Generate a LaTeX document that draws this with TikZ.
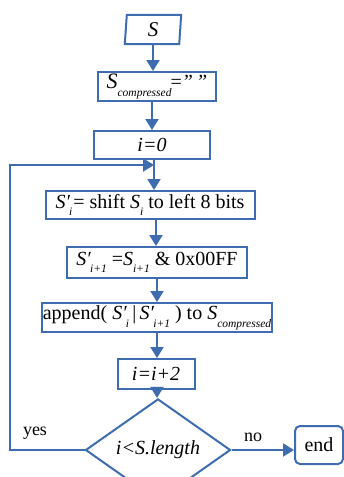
\documentclass[tikz,border=0pt]{standalone}
\usepackage{fontspec}
\setmainfont{Liberation Serif}
\usetikzlibrary{shapes.geometric,arrows.meta}
\definecolor{fblue}{RGB}{62,108,176}
\newcommand\subx[1]{\raisebox{-0.38em}{\fontsize{11.5}{12}\selectfont\itshape #1}}
\newcommand\V[2]{\textit{#1}\subx{#2}}
\newcommand\VP[2]{\textit{#1′}\kern-1pt\subx{#2}}
\begin{document}
\begin{tikzpicture}[x=1pt,y=-1pt,
  box/.style={draw=fblue,line width=2pt,fill=white,inner sep=0pt,font=\fontsize{20}{22}\selectfont},
  lbl/.style={inner sep=0pt,font=\fontsize{18}{22}\selectfont},
  arr/.style={draw=fblue,line width=2pt,-{Triangle[length=11pt,width=13pt]}}]
\useasboundingbox (0,0) rectangle (344,477);
\node[inner sep=0pt,minimum width=54pt,minimum height=29pt,font=\fontsize{21}{22}\selectfont] (s) at (153,29.5) {\textit{S}};
\draw[fblue,line width=2pt] ([xshift=1pt]s.north west) -- ([xshift=1pt]s.north east) -- ([xshift=-1pt]s.south east) -- ([xshift=-1pt]s.south west) -- cycle;
\node[box,minimum width=118pt,minimum height=29pt] (sc) at (157,86.5) {{\fontsize{22}{22}\selectfont\textit{S}}\subx{compressed}\kern-1pt=\textit{”\,”}};
\node[box,minimum width=116pt,minimum height=28pt] (i0) at (152,145) {\textit{i=0}};
\node[box,minimum width=209pt,minimum height=28pt] (si) at (150,205) {\VP{S}{i}\kern1pt= shift \V{S}{i} to left 8 bits};
\node[box,minimum width=180pt,minimum height=31pt] (si1) at (157,262.5) {\VP{S}{i+1} =\V{S}{i+1} \& 0x00FF};
\node[box,minimum width=230pt,minimum height=29pt] (app) at (157,317.5) {append( \VP{S}{i}\,|\,\VP{S}{i+1} ) to \V{S}{compressed}};
\node[box,minimum width=77pt,minimum height=30pt] (ii2) at (156,374) {\textit{i=i+2}};
\node[box,shape=diamond,minimum width=145pt,minimum height=64pt] (dia) at (158,450) {\textit{i<S.length}};
\node[box,rounded corners=5pt,minimum width=48pt,minimum height=38pt] (end) at (319,445) {end};
\coordinate (lp) at (10,165);
\coordinate (mj) at (154,165);
\draw[arr] (s) -- (s |- sc.north);
\draw[arr] (sc.south -| 152,0) -- (i0.north -| 152,0);
\draw[arr] (i0.south -| 154,0) -- (si.north -| 154,0);
\draw[arr] (si.south -| 156,0) -- (si1.north -| 156,0);
\draw[arr] (si1.south -| 157,0) -- (app.north -| 157,0);
\draw[arr] (app.south -| 157,0) -- (ii2.north -| 157,0);
\draw[arr] (ii2.south -| 157,0) -- (dia.north -| 157,0);
\draw[arr] (dia.west) -| (lp) -- (mj);
\draw[arr] (dia.east) -- (dia.east -| end.west);
\node[lbl] (yes) at (35,433) {yes};
\node[lbl] (no) at (253,437) {no};
\end{tikzpicture}
\end{document}
